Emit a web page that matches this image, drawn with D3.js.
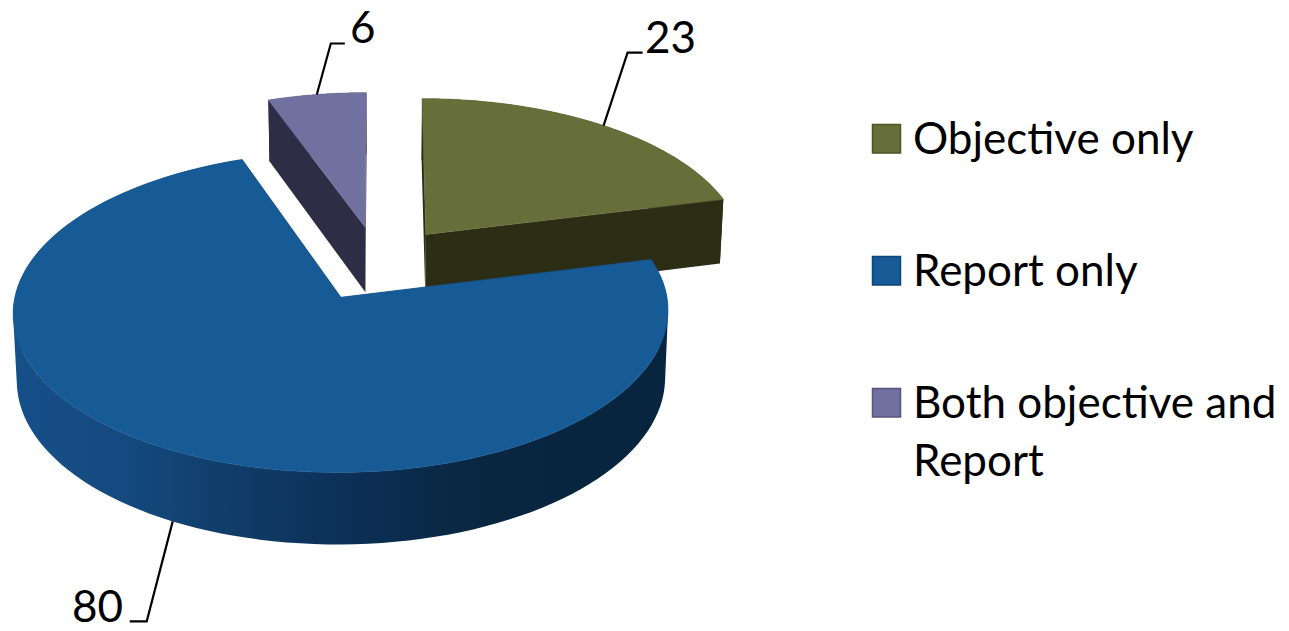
<!DOCTYPE html>
<html>
<head>
<meta charset="utf-8">
<script src="https://cdn.jsdelivr.net/npm/d3@7"></script>
<style>
	html, body { margin: 0; background: #fff; }
	text { font-family: Lato, "Open Sans", sans-serif; fill: #000; }
</style>
</head>
<body>
<svg id="chart" width="1289" height="631"></svg>
<script>
const categories = ["Objective only", "Report only", "Both objective and Report"];
const values = [23, 80, 6];
const legendLines = [["Objective only"], ["Report only"], ["Both objective and", "Report"]];
const topColors = ["#666e3a", "#165a96", "#71719f"];
const sideColors = ["#2c2d15", "#0b2a49", "#2d2d45"];
const swatchStrokes = ["#4c5329", "#10457a", "#555580"];
const wallStops = [
	[0, "#165088"], [0.18, "#14497e"], [0.3, "#113f6c"], [0.5, "#0c3058"], [0.72, "#092640"], [1, "#082540"]
];

const width = 1289,
	height = 631,
	cx = 378.5,
	cy = 263.5,
	rx = 319.7,
	ry = 153,
	perspective = 0.09,
	explode = 0.245,
	depth = 66,
	shrink = 0.99;

const svg = d3.select("#chart");

const slices = d3.pie().sort(null).value(d => d)(values)
	.map((d, i) => ({ ...d, i, mid: (d.startAngle + d.endAngle) / 2 }));

// ground plane -> screen, z is 0 on the top face and 1 on the base
const project = (d, angle, r, z) => {
	const x = explode * Math.sin(d.mid) + r * Math.sin(angle);
	const y = -(explode * Math.cos(d.mid) + r * Math.cos(angle));
	const s = 1 / (1 - perspective * y);
	const k = 1 - (1 - shrink) * z;
	return [cx + rx * x * s * k, cy + ry * y * s * k + depth * s * z];
};

const line = d3.line();
const arcAngles = d => d3.range(0, 121).map(j => d.startAngle + (d.endAngle - d.startAngle) * j / 120);

const topPath = d => line([
	project(d, d.startAngle, 0, 0),
	...arcAngles(d).map(a => project(d, a, 1, 0))
]) + "Z";

// one quad per arc step, all wound the same way in a single path,
// so the silhouette at the sides stays filled with no seams
const wallPath = d => d3.pairs(arcAngles(d)).map(([a, b]) => {
	const quad = [
		project(d, a, 1, 0),
		project(d, b, 1, 0),
		project(d, b, 1, 1),
		project(d, a, 1, 1)
	];
	return line(d3.polygonArea(quad) < 0 ? quad.reverse() : quad) + "Z";
}).join("");

const facePath = (d, angle) => line([
	project(d, angle, 0, 0),
	project(d, angle, 1, 0),
	project(d, angle, 1, 1),
	project(d, angle, 0, 1)
]) + "Z";

const grad = svg.append("defs").append("linearGradient")
	.attr("id", "wall")
	.attr("gradientUnits", "userSpaceOnUse")
	.attr("x1", 13).attr("x2", 668).attr("y1", 0).attr("y2", 0);
grad.selectAll("stop").data(wallStops).join("stop")
	.attr("offset", d => d[0])
	.attr("stop-color", d => d[1]);

// back to front
const order = [2, 0, 1];
const pie = svg.append("g");
order.forEach(i => {
	const d = slices[i];
	const g = pie.append("g");
	const side = i === 1 ? "url(#wall)" : sideColors[i];
	g.append("path").attr("d", facePath(d, d.startAngle)).attr("fill", sideColors[i]);
	g.append("path").attr("d", facePath(d, d.endAngle)).attr("fill", sideColors[i]);
	g.append("path").attr("d", wallPath(d)).attr("fill", side);
	g.append("path").attr("d", topPath(d))
		.attr("fill", topColors[i])
		.attr("stroke", topColors[i])
		.attr("stroke-width", 0.6);
});

// data labels and their leaders
const labelSpec = [
	{ z: 0, elbow: [24, -73], tail: 15, x: 645, y: 53 },
	{ z: 1, elbow: [-26, 100], tail: -17, x: 72, y: 622 },
	{ z: 0, elbow: [14, -51], tail: 14, x: 350, y: 43 }
];
slices.forEach(d => {
	const l = labelSpec[d.i];
	const p = project(d, d.mid, 1, l.z);
	const e = [p[0] + l.elbow[0], p[1] + l.elbow[1]];
	svg.append("path")
		.attr("d", line([p, e, [e[0] + l.tail, e[1]]]))
		.attr("fill", "none")
		.attr("stroke", "#000")
		.attr("stroke-width", 2.2);
	svg.append("text")
		.attr("x", l.x)
		.attr("y", l.y)
		.attr("font-size", 44)
		.text(d.data);
});

// legend
const legendY = d3.scalePoint().domain(categories).range([139, 403]);
const legend = svg.append("g").selectAll("g").data(categories).join("g")
	.attr("transform", c => `translate(873,${legendY(c)})`);
legend.append("rect")
	.attr("x", -0.5).attr("y", -14.5).attr("width", 28).attr("height", 28.5)
	.attr("fill", (c, i) => topColors[i])
	.attr("stroke", (c, i) => swatchStrokes[i])
	.attr("stroke-width", 1.5);
legend.append("text")
	.attr("x", 40)
	.attr("font-size", 44)
	.selectAll("tspan").data((c, i) => legendLines[i]).join("tspan")
	.attr("x", 40)
	.attr("y", (t, j) => 14.5 + j * 58)
	.text(t => t);
</script>
</body>
</html>
